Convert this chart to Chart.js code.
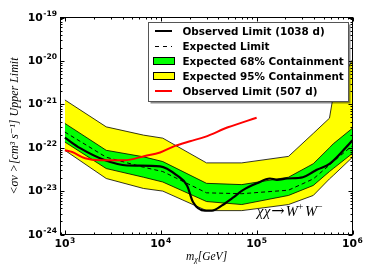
<!DOCTYPE html>
<html>
<head>
<meta charset="utf-8">
<script src="https://cdn.jsdelivr.net/npm/chart.js@4.4.1/dist/chart.umd.min.js"></script>
<style>
  html, body { margin: 0; padding: 0; background: #fff; }
</style>
</head>
<body>
<canvas id="limits" width="374" height="280"></canvas>
<script>
/* Upper limit on <sigma v> vs dark matter mass, chi chi -> W+ W-.
   Log-log axes, expected bands drawn as filled line pairs. */

// masses (GeV) where the expected limit bands were sampled
const bandMass = [1000, 2700, 6600, 10500, 30000, 70000, 215000, 390000, 575000, 630000, 1000000];
const yellowHi = [1.26e-21, 3.02e-22, 1.95e-22, 1.66e-22, 4.47e-23, 4.47e-23, 6.31e-23, 2.14e-22, 4.79e-22, 1.58e-21, 1.07e-20];
const greenHi  = [3.63e-22, 8.71e-23, 6.17e-23, 4.79e-23, 1.51e-23, 1.41e-23, 2.09e-23, 4.27e-23, 1.00e-22, 1.23e-22, 2.82e-22];
const expected = [2.29e-22, 6.03e-23, 3.55e-23, 2.82e-23, 9.12e-24, 8.71e-24, 1.05e-23, 1.91e-23, 3.98e-23, 4.79e-23, 1.12e-22];
const greenLo  = [1.35e-22, 3.31e-23, 2.09e-23, 1.62e-23, 5.75e-24, 4.90e-24, 7.94e-24, 1.35e-23, 2.82e-23, 3.31e-23, 7.41e-23];
const yellowLo = [8.71e-23, 1.95e-23, 1.15e-23, 1.00e-23, 3.55e-24, 3.55e-24, 4.90e-24, 7.94e-24, 1.91e-23, 2.29e-23, 6.03e-23];

// observed limit, 1038 days
const obsMass = [1000, 1442, 2630, 4457, 9840, 14791, 18793, 21677, 28907, 34198, 43551,
                 56624, 71945, 100700, 137721, 162930, 207014, 303389, 386367, 424620, 580764, 1000000];
const obsLimit = [1.70e-22, 9.77e-23, 5.13e-23, 3.89e-23, 3.72e-23, 2.29e-23, 1.35e-23, 5.62e-24, 3.55e-24, 3.55e-24, 4.68e-24,
                  7.08e-24, 1.05e-23, 1.51e-23, 1.95e-23, 1.82e-23, 1.95e-23, 2.09e-23, 2.75e-23, 3.09e-23, 4.27e-23, 1.48e-22];

// observed limit, 507 days
const oldMass = [1000, 1191, 1626, 2333, 4150, 6855, 9840, 14093, 20184, 28907, 50234, 100000];
const oldLimit = [8.71e-23, 7.94e-23, 5.69e-23, 5.13e-23, 5.13e-23, 6.46e-23, 7.76e-23, 1.10e-22, 1.41e-22, 1.78e-22, 2.95e-22, 4.90e-22];

const xTicks = [1e3, 1e4, 1e5, 1e6];
const yTicks = [1e-24, 1e-23, 1e-22, 1e-21, 1e-20, 1e-19];

const legendLabels = [
  "Observed Limit (1038 d)",
  "Expected Limit",
  "Expected 68% Containment",
  "Expected 95% Containment",
  "Observed Limit (507 d)",
];

const pts = (xs, ys) => xs.map((m, i) => ({ x: m, y: ys[i] }));

const BOLD = "'DejaVu Sans', sans-serif";
const SERIF = "'Liberation Serif', 'DejaVu Serif', serif";

// "10" with a raised exponent; anchor is 'center' (x axis) or 'right' (y axis)
function drawPow(ctx, v, ax, baseY, anchor) {
  const exp = String(Math.round(Math.log10(v)));
  ctx.font = "bold 10.8px " + BOLD;
  const w10 = ctx.measureText("10").width;
  ctx.font = "bold 7.6px " + BOLD;
  const wExp = ctx.measureText(exp).width;
  const w = w10 + wExp + 0.5;
  const x0 = anchor === "right" ? ax - w : ax - w / 2;
  ctx.font = "bold 10.8px " + BOLD;
  ctx.fillText("10", x0, baseY);
  ctx.font = "bold 7.6px " + BOLD;
  ctx.fillText(exp, x0 + w10 + 0.5, baseY - 4.5);
}

const decorations = {
  id: "decorations",
  afterDatasetsDraw(chart) {
    const { ctx, chartArea: a, scales: { x, y } } = chart;
    ctx.save();
    ctx.strokeStyle = "#000";
    ctx.lineWidth = 1;
    ctx.beginPath();
    // inward ticks on all four sides
    for (let n = 2; n <= 6; n++) {
      for (let k = 1; k <= 9; k++) {
        const v = k * Math.pow(10, n);
        if (v < x.min || v > x.max) continue;
        const px = Math.round(x.getPixelForValue(v)) + 0.5;
        const len = k === 1 ? 4 : 2;
        ctx.moveTo(px, a.bottom); ctx.lineTo(px, a.bottom - len);
        ctx.moveTo(px, a.top); ctx.lineTo(px, a.top + len);
      }
    }
    for (let n = -25; n <= -19; n++) {
      for (let k = 1; k <= 9; k++) {
        const v = k * Math.pow(10, n);
        if (v < y.min * 0.999 || v > y.max * 1.001) continue;
        const py = Math.round(y.getPixelForValue(v)) + 0.5;
        const len = k === 1 ? 4 : 2;
        ctx.moveTo(a.left, py); ctx.lineTo(a.left + len, py);
        ctx.moveTo(a.right, py); ctx.lineTo(a.right - len, py);
      }
    }
    ctx.stroke();
    ctx.strokeRect(a.left, a.top, a.right - a.left, a.bottom - a.top);

    // channel annotation
    ctx.fillStyle = "#000";
    ctx.textBaseline = "alphabetic";
    ctx.textAlign = "left";
    let tx = 257;
    const ty = 216;
    const part = (s, font, dy, gap) => {
      ctx.font = font;
      ctx.fillText(s, tx, ty + dy);
      tx += ctx.measureText(s).width + gap;
    };
    part("\u03C7", "italic 14.5px " + SERIF, 0, 0.5);
    part("\u03C7", "italic 14.5px " + SERIF, 0, 1);
    part("\u2192", "16px 'DejaVu Serif', serif", 0, 1);
    part("W", "italic 14.5px " + SERIF, 0, 0);
    part("+", "10px " + SERIF, -6, 1.5);
    part("W", "italic 14.5px " + SERIF, 0, 0);
    part("\u2212", "10px " + SERIF, -6, 0);
    ctx.restore();
  },
  afterDraw(chart) {
    const { ctx, chartArea: a, scales: { x, y } } = chart;
    ctx.save();
    ctx.fillStyle = "#000";
    ctx.textAlign = "left";
    ctx.textBaseline = "alphabetic";

    // tick labels, positioned from the scales
    x.ticks.forEach((t) => drawPow(ctx, t.value, x.getPixelForValue(t.value), a.bottom + 12.5, "center"));
    y.ticks.forEach((t) => drawPow(ctx, t.value, a.left - 3.5, y.getPixelForValue(t.value) + 3, "right"));

    // axis titles
    ctx.textBaseline = "middle";
    ctx.textAlign = "center";
    ctx.save();
    ctx.translate(15, (a.top + a.bottom) / 2);
    ctx.rotate(-Math.PI / 2);
    ctx.font = "italic 12px " + SERIF;
    ctx.fillText("<\u03C3v >[cm\u00B3 s\u207B\u00B9] Upper Limit", 0, 0);
    ctx.restore();

    ctx.font = "italic 11.5px " + SERIF;
    const m = "m", chi = "\u03C7", gev = "[GeV]";
    const wm = ctx.measureText(m).width, wg = ctx.measureText(gev).width;
    ctx.font = "italic 8px " + SERIF;
    const wc = ctx.measureText(chi).width;
    const lx = (a.left + a.right) / 2 - (wm + wc + wg) / 2;
    ctx.textAlign = "left";
    ctx.font = "italic 11.5px " + SERIF;
    ctx.fillText(m, lx, 257);
    ctx.font = "italic 8px " + SERIF;
    ctx.fillText(chi, lx + wm, 260);
    ctx.font = "italic 11.5px " + SERIF;
    ctx.fillText(gev, lx + wm + wc, 257);

    // legend box with shadow
    const bx = 148.5, by = 22.5, bw = 200, bh = 79;
    ctx.fillStyle = "rgba(0,0,0,0.45)";
    ctx.fillRect(bx + 2, by + 2, bw, bh);
    ctx.fillStyle = "#fff";
    ctx.fillRect(bx, by, bw, bh);
    ctx.strokeStyle = "#555";
    ctx.lineWidth = 1;
    ctx.strokeRect(bx, by, bw, bh);

    const rows = [31, 46, 61, 76, 91];
    const hx0 = 155, hx1 = 172;
    ctx.lineWidth = 2;
    ctx.strokeStyle = "#000";
    ctx.beginPath(); ctx.moveTo(hx0, rows[0]); ctx.lineTo(hx1, rows[0]); ctx.stroke();
    ctx.lineWidth = 1;
    ctx.setLineDash([4, 4]);
    ctx.beginPath(); ctx.moveTo(hx0, rows[1] + 0.5); ctx.lineTo(hx1, rows[1] + 0.5); ctx.stroke();
    ctx.setLineDash([]);
    ctx.fillStyle = "#00ff00";
    ctx.fillRect(153.5, rows[2] - 3.5, 21, 7);
    ctx.strokeRect(153.5, rows[2] - 3.5, 21, 7);
    ctx.fillStyle = "#ffff00";
    ctx.fillRect(153.5, rows[3] - 3.5, 21, 7);
    ctx.strokeRect(153.5, rows[3] - 3.5, 21, 7);
    ctx.lineWidth = 2;
    ctx.strokeStyle = "#ff0000";
    ctx.beginPath(); ctx.moveTo(hx0, rows[4]); ctx.lineTo(hx1, rows[4]); ctx.stroke();

    ctx.fillStyle = "#000";
    ctx.textAlign = "left";
    ctx.textBaseline = "middle";
    ctx.font = "bold 10.4px " + BOLD;
    legendLabels.forEach((t, i) => ctx.fillText(t, 182.5, rows[i] + 1));
    ctx.restore();
  },
};

const line = (extra) => Object.assign({
  borderColor: "#000",
  borderWidth: 0.8,
  pointRadius: 0,
  tension: 0,
  fill: false,
}, extra);

new Chart(document.getElementById("limits"), {
  type: "line",
  data: {
    datasets: [
      line({ label: "yellowHi", data: pts(bandMass, yellowHi), fill: { target: 1 }, backgroundColor: "#ffff00", order: 6 }),
      line({ label: "yellowLo", data: pts(bandMass, yellowLo), order: 5 }),
      line({ label: "greenHi", data: pts(bandMass, greenHi), fill: { target: 3 }, backgroundColor: "#00ff00", order: 4 }),
      line({ label: "greenLo", data: pts(bandMass, greenLo), order: 3 }),
      line({ label: "expected", data: pts(bandMass, expected), borderWidth: 1, borderDash: [4, 3], order: 2 }),
      line({ label: "observed", data: pts(obsMass, obsLimit), borderWidth: 2.2, cubicInterpolationMode: "monotone", order: 1 }),
      line({ label: "old", data: pts(oldMass, oldLimit), borderColor: "#ff0000", borderWidth: 2, cubicInterpolationMode: "monotone", order: 0 }),
    ],
  },
  options: {
    responsive: false,
    animation: false,
    devicePixelRatio: 1,
    layout: { padding: { top: 17.5, right: 21.5, left: 0, bottom: 0 } },
    plugins: { legend: { display: false }, tooltip: { enabled: false } },
    scales: {
      x: {
        type: "logarithmic",
        min: 900,
        max: 1e6,
        grid: { display: false, drawTicks: false },
        border: { display: false },
        afterBuildTicks: (s) => { s.ticks = xTicks.map((v) => ({ value: v })); },
        afterFit: (s) => { s.height = 45.5; },
        ticks: { display: false },
      },
      y: {
        type: "logarithmic",
        min: 1e-24,
        max: 1e-19,
        grid: { display: false, drawTicks: false },
        border: { display: false },
        afterBuildTicks: (s) => { s.ticks = yTicks.map((v) => ({ value: v })); },
        afterFit: (s) => { s.width = 60.5; },
        ticks: { display: false },
      },
    },
  },
  plugins: [decorations],
});
</script>
</body>
</html>
